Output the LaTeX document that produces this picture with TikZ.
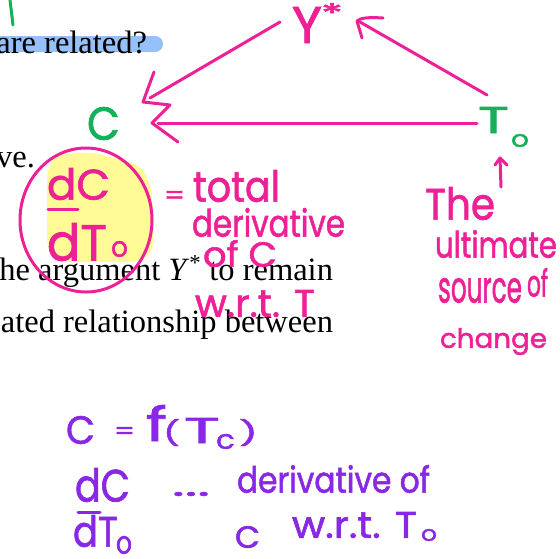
\documentclass[tikz,border=0pt]{standalone}
\usepackage{fontspec}
\setmainfont{Liberation Serif}
\newfontfamily\hwfont{Poppins}[FakeBold=1.6]
\definecolor{inkpink}{RGB}{238,32,150}
\definecolor{inkgreen}{RGB}{20,176,90}
\definecolor{inkpurple}{RGB}{136,40,228}
\definecolor{hlyellow}{RGB}{255,250,150}
\definecolor{hlblue}{RGB}{150,192,250}
\begin{document}
\begin{tikzpicture}[x=1pt,y=-1pt,
  hw/.style={inner sep=0pt,outer sep=0pt,anchor=north west,font=\hwfont},
  doc/.style={inner sep=0pt,outer sep=0pt,anchor=base east,font=\fontsize{32.5}{38}\selectfont},
  pen/.style={line width=3pt,line cap=round,line join=round}]
\useasboundingbox (0,0) rectangle (560,558);
% highlights
\fill[hlblue,rounded corners=8pt] (-10,36) rectangle (163,52);
\fill[hlyellow,rounded corners=10pt] (47,170) -- (55,155) -- (90,152) -- (122,160) -- (142,166) -- (152,190) -- (154,250) -- (140,262) -- (60,262) -- (47,250) -- cycle;
% document text
\node[doc] (t1) at (147,53) {are related?};
\node[doc] (t2) at (35,167) {ve.};
\node[doc] (t3) at (333,280) {he argument \textit{Y}\textsuperscript{*} to remain};
\node[doc] (t4) at (333,332) {ated relationship between};
% green marks
\draw[pen,inkgreen] (10,0) -- (13,25);
\node[hw,inkgreen] (C) at (87,107) {\resizebox*{33pt}{33pt}{C}};
\node[hw,inkgreen] (T) at (478,107) {\resizebox*{31pt}{26pt}{T}};
\node[hw,inkgreen] (To) at (511,134) {\resizebox*{18pt}{13pt}{o}};
% Y*
\node[hw,inkpink] (Y) at (292,7) {\resizebox*{30pt}{36pt}{Y}};
\node[hw,inkpink] (Ys) at (321,3) {\resizebox*{22pt}{20pt}{*}};
% arrows of the triangle
\coordinate (yA) at (280,22);
\coordinate (cA) at (150,98);
\coordinate (tA) at (487,95);
\coordinate (yB) at (360,22);
\coordinate (tB) at (477,123);
\coordinate (cB) at (158,123);
\draw[pen,inkpink] (yA) -- (cA);
\draw[pen,inkpink] (154,72) -- (143,102) -- (170,105) -- (152,123) -- (178,142);
\draw[pen,inkpink] (tB) -- (cB);
\draw[pen,inkpink] (tA) -- (yB);
\draw[pen,inkpink] (383,18) .. controls (368,17) and (360,18) .. (357,21) -- (362,38);
% small arrow under T0
\coordinate (uA) at (501,187);
\coordinate (uB) at (500,158);
\draw[pen,inkpink] (uA) -- (uB);
\draw[pen,inkpink] (495,165) -- (uB) -- (507,165);
% The ultimate source of change
\node[hw,inkpink] (the) at (425,187) {\resizebox*{70pt}{33pt}{The}};
\node[hw,inkpink] (ult) at (435,230) {\resizebox*{122pt}{28pt}{ultimate}};
\node[hw,inkpink] (src) at (438,278) {\resizebox*{84pt}{25pt}{source}};
\node[hw,inkpink] (of1) at (527,268) {\resizebox*{21pt}{29pt}{of}};
\node[hw,inkpink] (chg) at (440,328) {\resizebox*{107pt}{27pt}{change}};
% dC/dT0 circled
\node[hw,inkpink] (dC) at (47,168) {\resizebox*{63pt}{32pt}{dC}};
\draw[pen,inkpink] (48,209) -- (78,209);
\node[hw,inkpink] (dT) at (47,223) {\resizebox*{60pt}{38pt}{dT}};
\node[hw,inkpink] (dTo) at (111,241) {\resizebox*{17pt}{16pt}{o}};
\draw[pen,inkpink] (86,220) ellipse [x radius=66,y radius=72];
\node[hw,inkpink] (eq) at (164,191) {\resizebox*{21pt}{13pt}{=}};
\node[hw,inkpink] (tot) at (193,170) {\resizebox*{87pt}{32pt}{total}};
\node[hw,inkpink] (der) at (192,208) {\resizebox*{153pt}{29pt}{derivative}};
\node[hw,inkpink] (ofc) at (203,240) {\resizebox*{74pt}{27pt}{of C}};
\node[hw,inkpink] (wrt) at (195,290) {\resizebox*{120pt}{27pt}{w.r.t. T}};
% purple notes
\node[hw,inkpurple] (pC) at (66,416) {\resizebox*{29pt}{28pt}{C}};
\node[hw,inkpurple] (peq) at (114,427) {\resizebox*{21pt}{12pt}{=}};
\node[hw,inkpurple] (pf) at (146,405) {\resizebox*{21pt}{36pt}{f}};
\node[hw,inkpurple] (plp) at (163,419) {\resizebox*{17pt}{27pt}{(}};
\node[hw,inkpurple] (pT) at (184,418) {\resizebox*{36pt}{25pt}{T}};
\node[hw,inkpurple] (pc) at (216,434) {\resizebox*{19pt}{15pt}{c}};
\node[hw,inkpurple] (prp) at (239,419) {\resizebox*{19pt}{27pt}{)}};
\node[hw,inkpurple] (pdC) at (75,468) {\resizebox*{55pt}{34pt}{dC}};
\draw[pen,inkpurple] (78,512) -- (100,512);
\node[hw,inkpurple] (pdT) at (73,515) {\resizebox*{45pt}{32pt}{dT}};
\node[hw,inkpurple] (pdTo) at (116,536) {\resizebox*{16pt}{18pt}{o}};
\node[hw,inkpurple] (dots) at (172,492) {\resizebox*{38pt}{4pt}{...}};
\node[hw,inkpurple] (pder) at (237,465) {\resizebox*{193pt}{28pt}{derivative of}};
\node[hw,inkpurple] (pC2) at (235,526) {\resizebox*{25pt}{22pt}{C}};
\node[hw,inkpurple] (pwrt) at (292,512) {\resizebox*{125pt}{26pt}{w.r.t. T}};
\node[hw,inkpurple] (pwo) at (421,529) {\resizebox*{16pt}{12pt}{o}};
\end{tikzpicture}
\end{document}
